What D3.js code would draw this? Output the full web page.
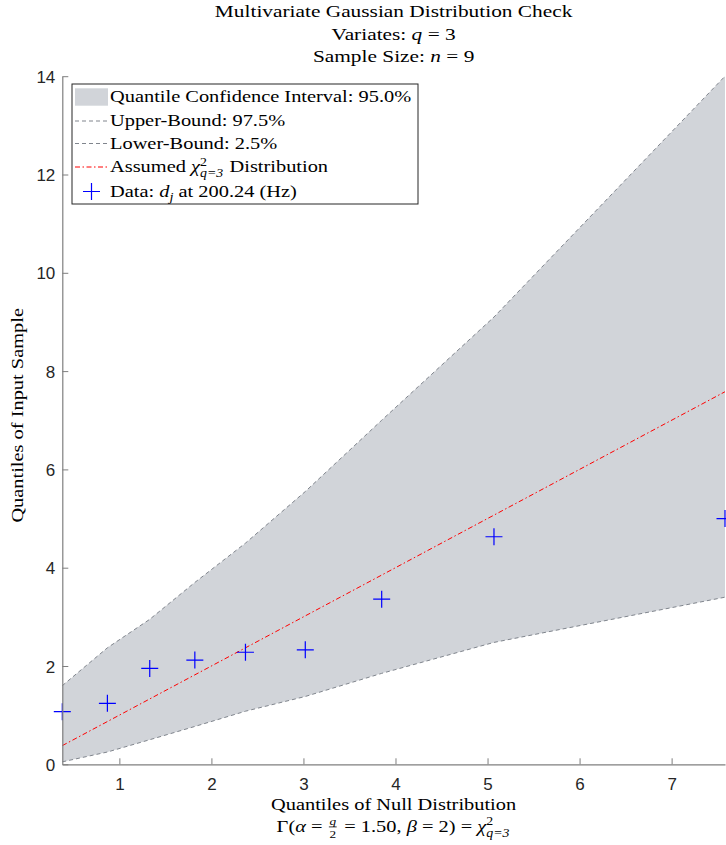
<!DOCTYPE html>
<html>
<head>
<meta charset="utf-8">
<script src="https://cdn.jsdelivr.net/npm/d3@7"></script>
<style>
  html, body { margin: 0; padding: 0; background: #fff; }
  svg { display: block; }
</style>
</head>
<body>
<svg id="chart" width="726" height="845"></svg>
<script>
// Chi-square (q = 3) reference quantiles for n = 9 sorted samples
const quantiles = [0.38, 0.87, 1.33, 1.82, 2.37, 3.02, 3.85, 5.07, 7.58];
// Sorted squared Mahalanobis distances d_j
const sample = [1.07, 1.24, 1.95, 2.12, 2.28, 2.33, 3.36, 4.63, 5.00];
// 97.5% and 2.5% order-statistic bounds at each quantile
const upperBound = [1.60, 2.37, 2.95, 3.70, 4.50, 5.55, 7.00, 9.10, 14.00];
const lowerBound = [0.05, 0.25, 0.50, 0.77, 1.08, 1.38, 1.85, 2.48, 3.40];
const xTicks = [1, 2, 3, 4, 5, 6, 7];
const yTicks = [0, 2, 4, 6, 8, 10, 12, 14];

const SERIF = "'Liberation Serif', 'Times New Roman', serif";
const SANS = "'Liberation Sans', Arial, Helvetica, sans-serif";

const svg = d3.select("#chart");
const m = { left: 62.3, right: 725, top: 76.2, bottom: 764.3 };

const x = d3.scaleLinear()
  .domain([quantiles[0], quantiles[quantiles.length - 1]])
  .range([m.left, m.right]);
const y = d3.scaleLinear().domain([0, 14]).range([m.bottom, m.top]);

const pts = quantiles.map((q, i) => ({ q, d: sample[i], hi: upperBound[i], lo: lowerBound[i] }));

const BAND = "#d1d4d9", BOUND = "#80858d";
const plot = svg.append("g");

// Confidence band
plot.append("path")
  .datum(pts)
  .attr("fill", BAND)
  .attr("stroke", "none")
  .attr("d", d3.area().x(p => x(p.q)).y0(p => y(p.lo)).y1(p => y(p.hi)));

// Upper and lower bounds
["hi", "lo"].forEach(key => {
  plot.append("path")
    .datum(pts)
    .attr("fill", "none")
    .attr("stroke", BOUND)
    .attr("stroke-width", 1)
    .attr("stroke-dasharray", "4,3")
    .attr("d", d3.line().x(p => x(p.q)).y(p => y(p[key])));
});

// Assumed chi-square line (y = x)
plot.append("path")
  .datum([quantiles[0], quantiles[quantiles.length - 1]])
  .attr("fill", "none")
  .attr("stroke", "#ff0000")
  .attr("stroke-width", 1)
  .attr("stroke-dasharray", "5,2.5,1.5,2.5")
  .attr("d", d3.line().x(q => x(q)).y(q => y(q)));

// Data markers
const crossPath = (cx, cy, r) => `M${cx - r},${cy}H${cx + r}M${cx},${cy - r}V${cy + r}`;
plot.selectAll("path.pt")
  .data(pts)
  .join("path")
  .attr("class", "pt")
  .attr("fill", "none")
  .attr("stroke", "#0000ff")
  .attr("stroke-width", 1.2)
  .attr("d", p => crossPath(x(p.q), y(p.d), 8.5));

// Axes (ticks point inward)
const axisColor = "#7f7f7f";
const xAxis = svg.append("g")
  .attr("transform", `translate(0,${m.bottom})`)
  .call(d3.axisBottom(x).tickValues(xTicks).tickFormat(d3.format("d")).tickSizeInner(-6).tickSizeOuter(0));
const yAxis = svg.append("g")
  .attr("transform", `translate(${m.left},0)`)
  .call(d3.axisLeft(y).tickValues(yTicks).tickFormat(d3.format("d")).tickSizeInner(-6).tickSizeOuter(0));
[xAxis, yAxis].forEach(a => {
  a.select(".domain").attr("stroke", axisColor).attr("stroke-width", 1.2);
  a.selectAll(".tick line").attr("stroke", axisColor).attr("stroke-width", 1);
  a.selectAll(".tick text")
    .attr("fill", "#262626")
    .style("font-family", SANS)
    .style("font-size", "17px");
});
yAxis.selectAll(".tick text").attr("x", -7).attr("dy", "0.36em");
xAxis.selectAll(".tick text").attr("y", 14).attr("dy", "0.71em");

// Math-like text: a row of pieces laid out left to right, widened by sx
function mathText(parent, cx, baseline, parts, size, sx, anchor = "middle") {
  const g = parent.append("g").attr("fill", "#000");
  const inner = g.append("g");
  let cur = 0;
  const txt = (s, xx, yy, fs, italic) => inner.append("text")
    .attr("x", xx).attr("y", yy).text(s)
    .attr("xml:space", "preserve")
    .style("font-family", SERIF)
    .style("font-size", fs + "px")
    .style("font-style", italic ? "italic" : "normal");
  parts.forEach(p => {
    if (p.frac) {
      const fs = size * 0.65;
      const num = txt(p.frac[0], 0, baseline - size * 0.4, fs, true);
      const den = txt(p.frac[1], 0, baseline + size * 0.33, fs, false);
      const nw = num.node().getComputedTextLength(), dw = den.node().getComputedTextLength();
      const w = Math.max(nw, dw) + 3;
      num.attr("x", cur + 1 + (w - 2 - nw) / 2);
      den.attr("x", cur + 1 + (w - 2 - dw) / 2);
      inner.append("line").attr("x1", cur + 1).attr("x2", cur + w - 1)
        .attr("y1", baseline - size * 0.3).attr("y2", baseline - size * 0.3)
        .attr("stroke", "#000").attr("stroke-width", 0.7);
      cur += w + 1;
      return;
    }
    if (p.script) {
      // superscript stacked over subscript
      const fs = size * 0.68;
      const sup = txt(p.script[0], cur, baseline - size * 0.4, fs, false);
      const sub = txt(p.script[1], cur, baseline + size * 0.28, fs, true);
      cur += Math.max(sup.node().getComputedTextLength(), sub.node().getComputedTextLength()) + 1;
      return;
    }
    const fs = p.sub ? size * 0.7 : size;
    const t = txt(p.t, cur, baseline + (p.sub ? size * 0.22 : 0), fs, p.it);
    cur += t.node().getComputedTextLength();
  });
  const shift = anchor === "middle" ? cx - cur * sx / 2 : cx;
  inner.attr("transform", `translate(${shift},0) scale(${sx},1)`);
  return g;
}

const cxMid = (m.left + m.right) / 2;
const FS = 17, SX = 1.2;

// Title
const TFS = 17.5, TSX = 1.22;
mathText(svg, cxMid, 17.5, [{ t: "Multivariate Gaussian Distribution Check" }], TFS, TSX);
mathText(svg, cxMid, 40, [{ t: "Variates: " }, { t: "q", it: true }, { t: " = 3" }], TFS, TSX);
mathText(svg, cxMid, 62.5, [{ t: "Sample Size: " }, { t: "n", it: true }, { t: " = 9" }], TFS, TSX);

// Axis labels
mathText(svg, cxMid, 810, [{ t: "Quantiles of Null Distribution" }], FS, SX);
mathText(svg, cxMid, 832, [
  { t: "Γ(" }, { t: "α", it: true }, { t: " = " }, { frac: ["q", "2"] },
  { t: " = 1.50, " }, { t: "β", it: true }, { t: " = 2) = " }, { t: "χ", it: true },
  { script: ["2", "q=3"] }
], FS, SX);

const yl = svg.append("g").attr("transform", `translate(23,${(m.top + m.bottom) / 2 - 5}) rotate(-90)`);
mathText(yl, 0, 0, [{ t: "Quantiles of Input Sample" }], FS, SX);

// Legend
const lg = svg.append("g");
const lx = 72, ly = 84, lw = 346, lh = 120;
lg.append("rect").attr("x", lx).attr("y", ly).attr("width", lw).attr("height", lh)
  .attr("fill", "#fff").attr("stroke", "#262626").attr("stroke-width", 1);
const rowY = [97, 121, 143.5, 167, 191.5];
lg.append("rect").attr("x", 75).attr("y", rowY[0] - 8.7).attr("width", 33).attr("height", 17.4).attr("fill", BAND);
[1, 2].forEach(i => lg.append("line").attr("x1", 75).attr("x2", 108).attr("y1", rowY[i]).attr("y2", rowY[i])
  .attr("stroke", BOUND).attr("stroke-width", 1).attr("stroke-dasharray", "4,3"));
lg.append("line").attr("x1", 75).attr("x2", 108).attr("y1", rowY[3]).attr("y2", rowY[3])
  .attr("stroke", "#ff0000").attr("stroke-width", 1).attr("stroke-dasharray", "5,2.5,1.5,2.5");
lg.append("path").attr("d", crossPath(91.5, rowY[4], 8.5)).attr("stroke", "#0000ff").attr("stroke-width", 1.2).attr("fill", "none");

const tx = 110, bl = 5.5;
mathText(lg, tx, rowY[0] + bl, [{ t: "Quantile Confidence Interval: 95.0%" }], FS, SX, "start");
mathText(lg, tx, rowY[1] + bl, [{ t: "Upper-Bound: 97.5%" }], FS, SX, "start");
mathText(lg, tx, rowY[2] + bl, [{ t: "Lower-Bound: 2.5%" }], FS, SX, "start");
mathText(lg, tx, rowY[3] + bl, [{ t: "Assumed " }, { t: "χ", it: true }, { script: ["2", "q=3"] }, { t: " Distribution" }], FS, SX, "start");
mathText(lg, tx, rowY[4] + bl, [{ t: "Data: " }, { t: "d", it: true }, { t: "j", it: true, sub: true }, { t: " at 200.24 (Hz)" }], FS, SX, "start");
</script>
</body>
</html>
